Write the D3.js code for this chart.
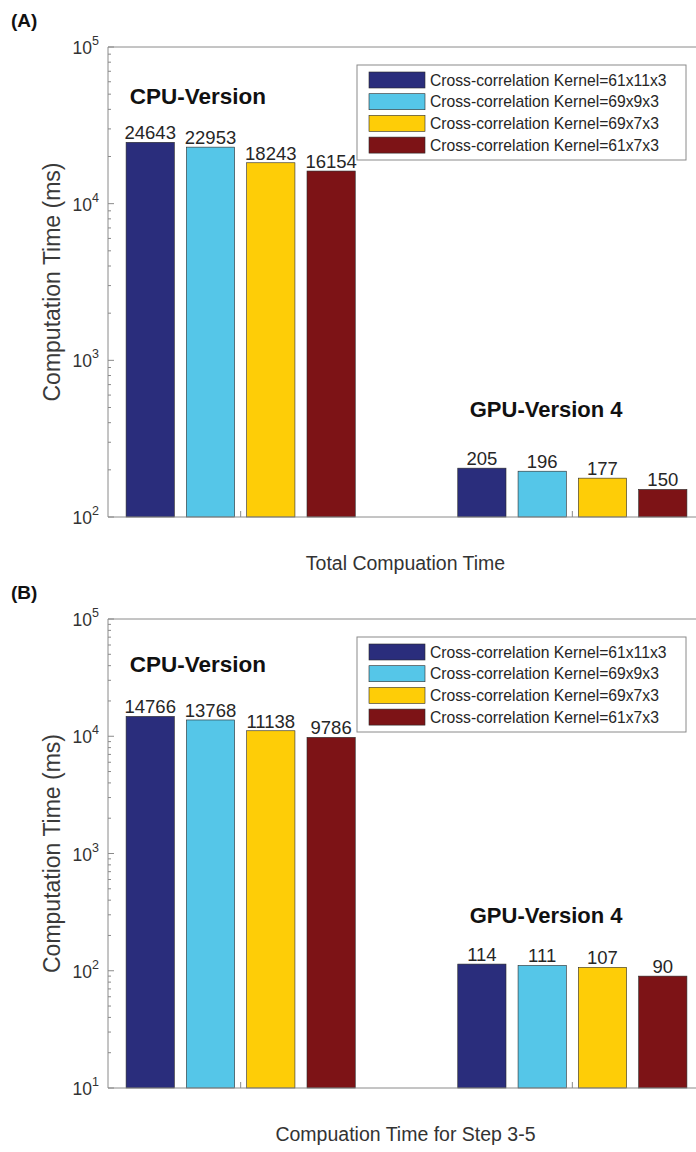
<!DOCTYPE html>
<html>
<head>
<meta charset="utf-8">
<script src="https://cdn.jsdelivr.net/npm/d3@7"></script>
<style>
  html, body { margin: 0; padding: 0; background: #fff; }
  svg { display: block; font-family: "Liberation Sans", Arial, sans-serif; }
</style>
</head>
<body>
<svg id="chart" width="696" height="1152"></svg>
<script>
// ---------------- data ----------------
const groups = ["CPU-Version", "GPU-Version 4"];
const kernels = [
  "Cross-correlation Kernel=61x11x3",
  "Cross-correlation Kernel=69x9x3",
  "Cross-correlation Kernel=69x7x3",
  "Cross-correlation Kernel=61x7x3"
];
const colors = ["#2a2d7c", "#55c6e8", "#fecd07", "#7d1316"];

const totalCPU = [24643, 22953, 18243, 16154];
const totalGPU = [205, 196, 177, 150];
const stepCPU = [14766, 13768, 11138, 9786];
const stepGPU = [114, 111, 107, 90];

const yTicksA = [1e2, 1e3, 1e4, 1e5];
const yTicksB = [1e1, 1e2, 1e3, 1e4, 1e5];

const panelLabels = ["(A)", "(B)"];
const xLabels = ["Total Compuation Time", "Compuation Time for Step 3-5"];
const yLabel = "Computation Time (ms)";

// ---------------- layout ----------------
const svg = d3.select("#chart");
const left = 108, right = 705;
const axisColor = "#8a8a8a";
const textColor = "#262626";

const panels = [
  { label: panelLabels[0], top: 47, bottom: 517, domain: [1e2, 1e5], ticks: yTicksA,
    values: [totalCPU, totalGPU], xLabel: xLabels[0],
    cpuLabelY: 104, gpuLabelY: 417 },
  { label: panelLabels[1], top: 619, bottom: 1088, domain: [1e1, 1e5], ticks: yTicksB,
    values: [stepCPU, stepGPU], xLabel: xLabels[1],
    cpuLabelY: 672, gpuLabelY: 923 }
];

const x = d3.scaleLinear().domain([0.6, 2.4]).range([left, right]);
const nBars = kernels.length;
const groupWidth = Math.min(0.8, nBars / (nBars + 1.5));
const pitch = groupWidth / nBars;
const barW = pitch * 0.8;

panels.forEach((p) => {
  const g = svg.append("g");
  const y = d3.scaleLog().domain(p.domain).range([p.bottom, p.top]);

  // panel label
  g.append("text").attr("x", 11).attr("y", p.top - 20)
    .attr("font-size", 19).attr("font-weight", "bold").attr("fill", "#111")
    .text(p.label);

  // bars
  p.values.forEach((vals, gi) => {
    const gx = gi + 1;
    vals.forEach((v, k) => {
      const cx = gx + (k - (nBars - 1) / 2) * pitch;
      const x0 = x(cx - barW / 2), x1 = x(cx + barW / 2);
      g.append("rect")
        .attr("x", x0).attr("y", y(v))
        .attr("width", x1 - x0).attr("height", p.bottom - y(v))
        .attr("fill", colors[k]).attr("stroke", "#2a2a2a").attr("stroke-width", 0.6);
      g.append("text")
        .attr("x", x(cx)).attr("y", y(v) - 3)
        .attr("text-anchor", "middle").attr("font-size", 18.5).attr("fill", textColor)
        .text(v);
    });
  });

  // box lines (top and bottom) and left axis
  g.append("line").attr("x1", left).attr("x2", right).attr("y1", p.top).attr("y2", p.top)
    .attr("stroke", axisColor).attr("stroke-width", 1);
  g.append("line").attr("x1", left).attr("x2", right).attr("y1", p.bottom).attr("y2", p.bottom)
    .attr("stroke", axisColor).attr("stroke-width", 1);
  g.append("line").attr("x1", left).attr("x2", left).attr("y1", p.top).attr("y2", p.bottom)
    .attr("stroke", axisColor).attr("stroke-width", 1);

  // y ticks (major + minor)
  const [lo, hi] = p.domain;
  const minor = [];
  for (let d = lo; d < hi; d *= 10) for (let m = 2; m <= 9; m++) minor.push(d * m);
  minor.forEach((v) => {
    g.append("line").attr("x1", left).attr("x2", left + 3)
      .attr("y1", y(v)).attr("y2", y(v)).attr("stroke", axisColor);
  });
  p.ticks.forEach((v) => {
    g.append("line").attr("x1", left).attr("x2", left + 6)
      .attr("y1", y(v)).attr("y2", y(v)).attr("stroke", axisColor);
    const exp = Math.round(Math.log10(v));
    const t = g.append("text").attr("x", left - 9).attr("y", y(v) + 7)
      .attr("text-anchor", "end").attr("font-size", 17.5).attr("fill", "#333");
    t.append("tspan").text("10");
    t.append("tspan").attr("dy", -9).attr("font-size", 12.5).text(exp);
  });

  // x ticks at group positions
  [1, 2].forEach((gx) => {
    g.append("line").attr("x1", x(gx)).attr("x2", x(gx))
      .attr("y1", p.bottom).attr("y2", p.bottom - 6).attr("stroke", axisColor);
  });

  // axis labels
  g.append("text").attr("x", (left + right) / 2 - 1).attr("y", p.bottom + 53)
    .attr("text-anchor", "middle").attr("font-size", 19.5).attr("fill", "#333")
    .text(p.xLabel);
  g.append("text")
    .attr("transform", `translate(60,${(p.top + p.bottom) / 2}) rotate(-90)`)
    .attr("text-anchor", "middle").attr("font-size", 23).attr("fill", "#3a3a3a")
    .text(yLabel);

  // group labels
  g.append("text").attr("x", x(0.871)).attr("y", p.cpuLabelY)
    .attr("text-anchor", "middle").attr("font-size", 22.5).attr("font-weight", "bold").attr("fill", "#111")
    .text(groups[0]);
  g.append("text").attr("x", x(1.921)).attr("y", p.gpuLabelY)
    .attr("text-anchor", "middle").attr("font-size", 22).attr("font-weight", "bold").attr("fill", "#111")
    .text(groups[1]);

  // legend
  const lg = g.append("g").attr("transform", `translate(357,${p.top + 18})`);
  lg.append("rect").attr("x", 0).attr("y", 0).attr("width", 329).attr("height", 95)
    .attr("fill", "#fff").attr("stroke", axisColor).attr("stroke-width", 1);
  kernels.forEach((k, i) => {
    const ry = 7 + i * 21.7;
    lg.append("rect").attr("x", 12).attr("y", ry).attr("width", 56).attr("height", 16)
      .attr("fill", colors[i]).attr("stroke", "#2a2a2a").attr("stroke-width", 0.6);
    lg.append("text").attr("x", 73).attr("y", ry + 13.5)
      .attr("font-size", 15.7).attr("fill", textColor).text(k);
  });
});
</script>
</body>
</html>
